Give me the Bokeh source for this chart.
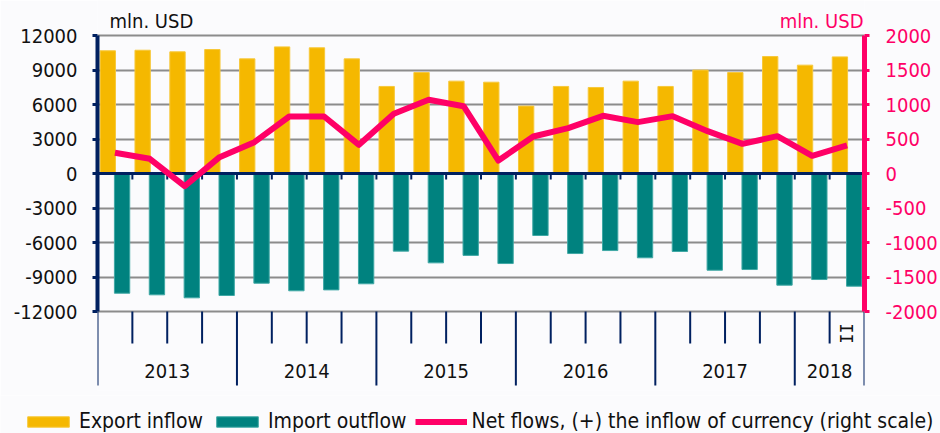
import math
from bokeh.plotting import figure
from bokeh.layouts import column, row
from bokeh.models import Range1d, LinearAxis, FixedTicker, Legend, LegendItem
from bokeh.core.properties import value
from bokeh.embed import file_html
from bokeh.resources import INLINE

# ---------------- data ----------------
years = ["2013", "2014", "2015", "2016", "2017", "2018"]
quarters_per_year = [4, 4, 4, 4, 4, 2]
last_quarter_label = "II"
export_inflow = [10670, 10720, 10580, 10780, 9970, 11010, 10930, 9970,
                 7570, 8780, 8030, 7940, 5860, 7570, 7480, 8030,
                 7570, 8990, 8780, 10170, 9420, 10140]
import_outflow = [-10410, -10550, -10810, -10610, -9540, -10200, -10120, -9590,
                  -6750, -7770, -7120, -7830, -5390, -6960, -6700, -7330,
                  -6780, -8410, -8350, -9710, -9220, -9800]
net_flows = [300, 213, -184, 237, 454, 826, 826, 415,
             865, 1068, 975, 188, 536, 657, 836, 744,
             831, 614, 430, 541, 256, 406]
left_ticks = [-12000, -9000, -6000, -3000, 0, 3000, 6000, 9000, 12000]
right_ticks = [-2000, -1500, -1000, -500, 0, 500, 1000, 1500, 2000]
left_unit = "mln. USD"
right_unit = "mln. USD"
series_names = ["Export inflow", "Import outflow",
                "Net flows, (+) the inflow of currency (right scale)"]

# ---------------- style / layout ----------------
FONT = "'DejaVu Sans Condensed', 'DejaVu Sans', sans-serif"
FS = "20px"
NAVY = "#002060"
PINK = "#FF0066"
GOLD = "#F5B800"
TEAL = "#00827F"
GOLD_EDGE = "#F7C83A"
TEAL_EDGE = "#3FA8A5"
GRID = "#8c8c8c"
BG = "#fbfbfd"
TXT = "#111111"

W, H = 940, 433
H_MAIN = 395                          # main chart height; the rest holds the legend
BORDER_L, BORDER_R = 97, 76
FRAME_BOTTOM = 390                    # row where the main plot frame ends
Y_TOP_PX, Y_BOT_PX = 35, 311          # pixel rows of the top / bottom ticks
n = len(export_inflow)
frame_w = W - BORDER_L - BORDER_R
px_per_cat = frame_w / n

lmin, lmax = left_ticks[0], left_ticks[-1]
rmin, rmax = right_ticks[0], right_ticks[-1]
ppu_l = (Y_BOT_PX - Y_TOP_PX) / (lmax - lmin)
ppu_r = (Y_BOT_PX - Y_TOP_PX) / (rmax - rmin)
y_range = Range1d(lmin - (FRAME_BOTTOM - Y_BOT_PX) / ppu_l, lmax + Y_TOP_PX / ppu_l)
r_range = Range1d(rmin - (FRAME_BOTTOM - Y_BOT_PX) / ppu_r, rmax + Y_TOP_PX / ppu_r)

p = figure(width=W, height=H_MAIN, x_range=Range1d(0, n), y_range=y_range,
           output_backend="svg", toolbar_location=None,
           x_axis_location=None, y_axis_location="left",
           min_border_left=BORDER_L, min_border_right=BORDER_R,
           min_border_top=0, min_border_bottom=H_MAIN - FRAME_BOTTOM,
           background_fill_color=BG, border_fill_color=BG,
           outline_line_color=None)
p.extra_y_ranges = {"net": r_range}

# grid
p.xgrid.visible = False
p.ygrid.ticker = FixedTicker(ticks=[t for t in left_ticks if t != 0])
p.ygrid.grid_line_color = GRID
p.ygrid.grid_line_width = 2

# left axis
ax = p.yaxis[0]
ax.ticker = FixedTicker(ticks=left_ticks)
ax.bounds = (lmin, lmax)
ax.major_label_overrides = {t: str(t) for t in left_ticks}
ax.axis_line_color = NAVY
ax.axis_line_width = 4
ax.major_tick_line_color = NAVY
ax.major_tick_line_width = 3
ax.major_tick_out = 5
ax.major_tick_in = 0
ax.minor_tick_out = 0
ax.minor_tick_in = 0
ax.major_label_standoff = 15
ax.major_label_text_font = FONT
ax.major_label_text_font_size = FS
ax.major_label_text_color = TXT

# right axis
rax = LinearAxis(y_range_name="net", ticker=FixedTicker(ticks=right_ticks),
                 bounds=(rmin, rmax))
rax.major_label_overrides = {t: str(t) for t in right_ticks}
rax.axis_line_color = PINK
rax.axis_line_width = 5
rax.major_tick_line_color = PINK
rax.major_tick_line_width = 3
rax.major_tick_out = 5
rax.major_tick_in = 0
rax.minor_tick_out = 0
rax.minor_tick_in = 0
rax.major_label_standoff = 16
rax.major_label_text_font = FONT
rax.major_label_text_font_size = FS
rax.major_label_text_color = PINK
p.add_layout(rax, "right")

# bars
xs = [i + 0.5 for i in range(n)]
x_exp = [x - 0.205 for x in xs]
x_imp = [x + 0.205 for x in xs]
bar_exp = dict(fill_color=GOLD, line_color=GOLD_EDGE, line_width=1)
bar_imp = dict(fill_color=TEAL, line_color=TEAL_EDGE, line_width=1)
line_net = dict(line_color=PINK, line_width=6, line_join="round")
p.vbar(x=x_exp, top=export_inflow, bottom=0, width=0.44, **bar_exp)
p.vbar(x=x_imp, top=0, bottom=import_outflow, width=0.44, **bar_imp)

# category axis at zero with small ticks
p.segment(x0=[0], y0=[0], x1=[n], y1=[0], line_color=NAVY, line_width=3)
inner = list(range(1, n))
p.segment(x0=inner, y0=[0] * len(inner), x1=inner, y1=[-6 / ppu_l] * len(inner),
          line_color=NAVY, line_width=2)

# bottom category separators
year_bounds = [0]
for q in quarters_per_year:
    year_bounds.append(year_bounds[-1] + q)
quarter_bounds = [b for b in range(1, n) if b not in year_bounds]
p.segment(x0=quarter_bounds, y0=[lmin] * len(quarter_bounds), x1=quarter_bounds,
          y1=[lmin - 32 / ppu_l] * len(quarter_bounds), line_color=NAVY, line_width=2)
p.segment(x0=year_bounds, y0=[lmin] * len(year_bounds), x1=year_bounds,
          y1=[lmin - 74 / ppu_l] * len(year_bounds), line_color=NAVY, line_width=2)

# year labels
year_centers = [(year_bounds[i] + year_bounds[i + 1]) / 2 for i in range(len(years))]
p.text(x=year_centers, y=[lmin - 59 / ppu_l] * len(years), text=years,
       text_align="center", text_baseline="middle", text_font=value(FONT),
       text_font_size=FS, text_color=TXT)
p.text(x=[n - 0.5], y=[lmin - 22 / ppu_l], text=[last_quarter_label], angle=math.pi / 2,
       text_align="center", text_baseline="middle", text_font=value("DejaVu Sans Mono"),
       text_font_size="17px", text_color=TXT)

# unit labels
p.text(x=[12 / px_per_cat], y=[lmax + 15 / ppu_l], text=[left_unit],
       text_align="left", text_baseline="middle", text_font=value(FONT),
       text_font_size=FS, text_color=TXT)
p.text(x=[n - 1 / px_per_cat], y=[rmax + 15 / ppu_r], text=[right_unit],
       y_range_name="net", text_align="right", text_baseline="middle",
       text_font=value(FONT), text_font_size=FS, text_color=PINK)

# net line
p.line(x=xs, y=net_flows, y_range_name="net", **line_net)

# ---------------- legend strip ----------------
# a separate strip so the legend can span the full width; its proxy renderers
# use the same series but lie outside this strip's (empty) view
lg = figure(width=W, height=H - H_MAIN, x_range=Range1d(-2 * n, -n),
            y_range=Range1d(-1, 1), output_backend="svg", toolbar_location=None,
            x_axis_location=None, y_axis_location=None,
            min_border_left=0, min_border_right=0, min_border_top=0, min_border_bottom=0,
            background_fill_color=BG, border_fill_color=BG, outline_line_color=None)
lg.grid.visible = False
k_exp = lg.vbar(x=x_exp, top=export_inflow, bottom=0, width=0.44, **bar_exp)
k_imp = lg.vbar(x=x_imp, top=0, bottom=import_outflow, width=0.44, **bar_imp)
k_net = lg.line(x=xs, y=net_flows, **line_net)
legend = Legend(items=[LegendItem(label=series_names[0], renderers=[k_exp]),
                       LegendItem(label=series_names[1], renderers=[k_imp]),
                       LegendItem(label=series_names[2], renderers=[k_net])],
                location=(22, 0), orientation="horizontal",
                glyph_width=52, glyph_height=13, label_standoff=5, spacing=8,
                padding=0, margin=0, border_line_color=None,
                background_fill_alpha=0,
                label_text_font=FONT, label_text_font_size="21px",
                label_text_color=TXT)
lg.add_layout(legend)

layout = column(p, row(lg), spacing=0)
open("out.html", "w").write(file_html(layout, INLINE))
